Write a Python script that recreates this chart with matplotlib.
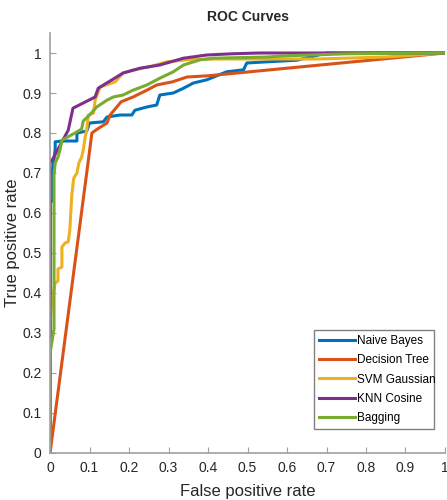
import numpy as np
import matplotlib.pyplot as plt

plt.rcParams['font.family'] = ['Liberation Sans', 'DejaVu Sans']

# ROC points (fpr, tpr)
nb_fpr = [0, 0, 0.007, 0.007, 0.013, 0.013, 0.03, 0.068, 0.068, 0.093, 0.10, 0.135, 0.144, 0.177, 0.207,
          0.215, 0.245, 0.27, 0.278, 0.312, 0.338, 0.363, 0.397, 0.447, 0.49, 0.498, 0.55, 0.625, 0.70, 1.0]
nb_tpr = [0, 0.63, 0.63, 0.71, 0.76, 0.778, 0.78, 0.78, 0.80, 0.805, 0.825, 0.828, 0.84, 0.845, 0.845,
          0.857, 0.865, 0.87, 0.895, 0.90, 0.912, 0.925, 0.933, 0.953, 0.958, 0.975, 0.978, 0.982, 1.0, 1.0]

dt_fpr = [0, 0.106, 0.12, 0.144, 0.152, 0.18, 0.21, 0.245, 0.27, 0.31, 0.347, 0.40, 1.0]
dt_tpr = [0, 0.80, 0.81, 0.825, 0.845, 0.878, 0.89, 0.907, 0.92, 0.928, 0.94, 0.943, 1.0]

svm_fpr = [0, 0, 0.005, 0.013, 0.02, 0.02, 0.03, 0.03, 0.038, 0.046, 0.05, 0.055, 0.06, 0.068, 0.073,
           0.08, 0.084, 0.089, 0.093, 0.097, 0.11, 0.114, 0.127, 0.165, 0.185, 0.21, 0.253, 0.296, 0.347,
           0.42, 0.676, 0.85, 1.0]
svm_tpr = [0, 0.33, 0.38, 0.425, 0.43, 0.46, 0.465, 0.515, 0.525, 0.528, 0.557, 0.645, 0.687, 0.70, 0.725,
           0.74, 0.757, 0.79, 0.81, 0.845, 0.85, 0.882, 0.915, 0.928, 0.95, 0.957, 0.966, 0.978, 0.983,
           0.985, 0.985, 0.99, 1.0]

knn_fpr = [0, 0, 0.008, 0.03, 0.046, 0.058, 0.114, 0.122, 0.185, 0.228, 0.278, 0.338, 0.397, 0.46, 0.53, 1.0]
knn_tpr = [0, 0.725, 0.737, 0.778, 0.807, 0.862, 0.89, 0.912, 0.95, 0.962, 0.97, 0.987, 0.995, 0.998, 1.0, 1.0]

bag_fpr = [0, 0, 0.01, 0.01, 0.013, 0.02, 0.025, 0.03, 0.063, 0.08, 0.084, 0.10, 0.118, 0.144, 0.16,
           0.185, 0.21, 0.245, 0.278, 0.312, 0.338, 0.38, 0.413, 0.55, 0.6, 0.75, 1.0]
bag_tpr = [0, 0.25, 0.31, 0.695, 0.725, 0.74, 0.757, 0.782, 0.80, 0.81, 0.83, 0.845, 0.865, 0.882, 0.89,
           0.895, 0.907, 0.92, 0.937, 0.953, 0.97, 0.983, 0.987, 0.99, 0.993, 0.998, 1.0]

names = ['Naive Bayes', 'Decision Tree', 'SVM Gaussian', 'KNN Cosine', 'Bagging']
colors = ['#0072BD', '#D95319', '#EDB120', '#7E2F8E', '#77AC30']
curves = [(nb_fpr, nb_tpr), (dt_fpr, dt_tpr), (svm_fpr, svm_tpr), (knn_fpr, knn_tpr), (bag_fpr, bag_tpr)]

fig = plt.figure(figsize=(4.47, 5.0), dpi=100)
ax = fig.add_axes([0.112, 0.094, 0.8835, 0.84])

for (x, y), n, c in zip(curves, names, colors):
    ax.plot(x, y, color=c, lw=2.2, label=n)

ax.set_xlim(0, 1)
ax.set_ylim(0, 1.05)
ticks = np.arange(0, 1.01, 0.1)
labels = ['0', '0.1', '0.2', '0.3', '0.4', '0.5', '0.6', '0.7', '0.8', '0.9', '1']
ax.set_xticks(ticks)
ax.set_xticklabels(labels)
ax.set_yticks(ticks)
ax.set_yticklabels(labels)
ax.tick_params(direction='in', length=4, color='#a0a0a0', labelsize=10, labelcolor='#262626', pad=6)
for s in ['top', 'right']:
    ax.spines[s].set_visible(False)
for s in ['left', 'bottom']:
    ax.spines[s].set_color('#a0a0a0')
    ax.spines[s].set_linewidth(1.2)

ax.set_title('ROC Curves', fontsize=10, fontweight='bold', color='#262626', pad=9)
ax.set_xlabel('False positive rate', fontsize=12, color='#262626', labelpad=6)
ax.set_ylabel('True positive rate', fontsize=12, color='#262626')
ax.yaxis.set_label_coords(-0.075, 0.5)

leg = ax.legend(loc='lower left', bbox_to_anchor=(0.668, 0.057, 0.304, 0.229), mode='expand',
                fancybox=False, framealpha=1, edgecolor='#808080', fontsize=8.5,
                handlelength=3.0, handletextpad=0.2, borderaxespad=0, labelspacing=0.6,
                borderpad=0.45)
leg.get_frame().set_linewidth(1.0)

fig.savefig('out.png', dpi=100)
